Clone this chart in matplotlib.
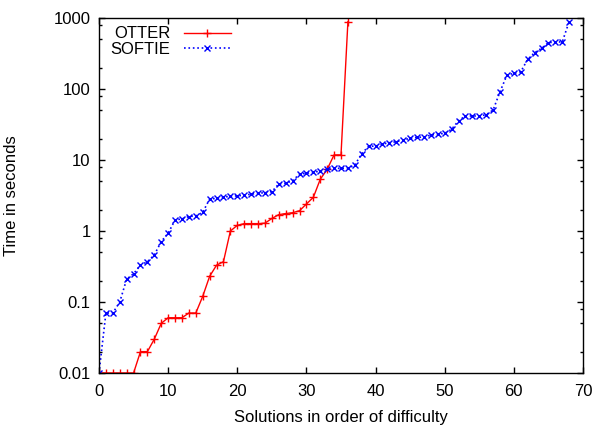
import matplotlib
matplotlib.use("Agg")
import matplotlib.pyplot as plt
from matplotlib.ticker import FixedLocator, FixedFormatter, NullFormatter

plt.rcParams['font.family'] = ['Liberation Sans', 'DejaVu Sans']

otter_times = [0.01, 0.01, 0.01, 0.01, 0.01, 0.01, 0.02, 0.02, 0.03, 0.05,
               0.06, 0.06, 0.06, 0.07, 0.07, 0.12, 0.23, 0.33, 0.37, 1.0,
               1.2, 1.27, 1.27, 1.27, 1.29, 1.5, 1.7, 1.76, 1.81, 1.93,
               2.4, 2.98, 5.35, 7.4, 11.8, 11.8, 890]
softie_times = [0.01, 0.07, 0.07, 0.1, 0.21, 0.25, 0.33, 0.37, 0.46, 0.71,
                0.93, 1.43, 1.48, 1.6, 1.63, 1.83, 2.82, 2.88, 2.98, 3.1,
                3.12, 3.2, 3.3, 3.4, 3.47, 3.58, 4.6, 4.7, 5.1, 6.35,
                6.5, 6.7, 7.0, 7.4, 7.6, 7.65, 7.7, 8.5, 12.3, 15.6,
                15.7, 16.8, 17.5, 18.1, 19.1, 20.2, 20.9, 21.0, 22.5, 23.0,
                23.8, 27.1, 35.8, 41.7, 41.7, 41.7, 43.4, 50.6, 91.6, 157,
                166, 175, 262, 325, 374, 449, 460, 460, 890]
otter_x = list(range(len(otter_times)))
softie_x = list(range(len(softie_times)))

x_ticks = [0, 10, 20, 30, 40, 50, 60, 70]
y_ticks = [0.01, 0.1, 1, 10, 100, 1000]
y_tick_labels = ["0.01", "0.1", "1", "10", "100", "1000"]
series_names = ["OTTER", "SOFTIE"]

FS = 12

fig = plt.figure(figsize=(6.04, 4.26), dpi=100)
ax = fig.add_axes([99/604, 53/426, 484/604, 355/426])

ax.plot(otter_x, otter_times, color='#ff0000', linestyle='-', linewidth=1.0,
        marker='+', markersize=6, markeredgewidth=1.0, label=series_names[0])
ax.plot(softie_x, softie_times, color='#0000ff', linestyle=':', linewidth=1.2,
        marker='x', markersize=4.5, markeredgewidth=1.0, label=series_names[1])

ax.set_yscale('log')
ax.set_xlim(0, 70)
ax.set_ylim(0.01, 1000)
ax.xaxis.set_major_locator(FixedLocator(x_ticks))
ax.yaxis.set_major_locator(FixedLocator(y_ticks))
ax.yaxis.set_major_formatter(FixedFormatter(y_tick_labels))
minor = []
for d in [0.01, 0.1, 1, 10, 100]:
    minor += [2*d, 5*d, 8*d]
ax.yaxis.set_minor_locator(FixedLocator(minor))
ax.yaxis.set_minor_formatter(NullFormatter())
ax.xaxis.set_minor_locator(FixedLocator([]))

ax.tick_params(which='both', direction='in', top=True, right=True, labelsize=FS, colors='black')
ax.tick_params(which='major', length=4, width=1.0)
ax.tick_params(axis='x', which='major', pad=8)
ax.tick_params(axis='y', which='major', pad=6)
ax.tick_params(which='minor', length=2.2, width=1.0)
for s in ax.spines.values():
    s.set_linewidth(1.0)

ax.set_xlabel("Solutions in order of difficulty", fontsize=FS, labelpad=8)
ax.set_ylabel("Time in seconds", fontsize=FS)
ax.yaxis.set_label_coords(-(99 - 19) / 484, 0.5)

leg = ax.legend(loc='upper left', bbox_to_anchor=(0.007, 1.0), frameon=False,
                markerfirst=False, fontsize=FS, handlelength=2.8,
                handletextpad=0.8, labelspacing=0.05, borderaxespad=0.1)
for t in leg.get_texts():
    t.set_ha('right')

fig.savefig("out.png", dpi=100)
